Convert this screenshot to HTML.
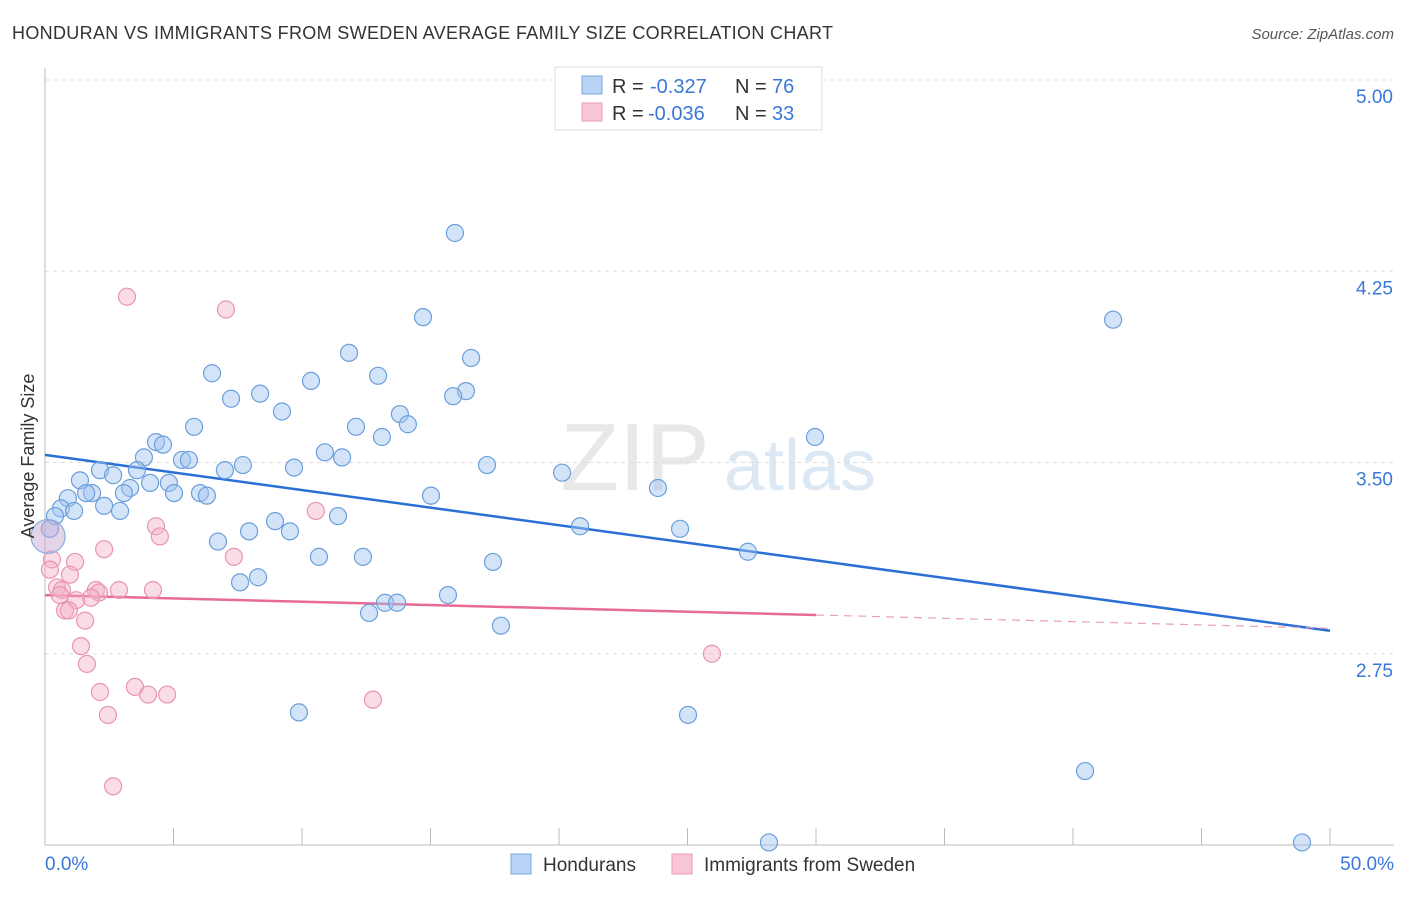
<!DOCTYPE html>
<html><head><meta charset="utf-8">
<style>
body{margin:0;background:#fff;font-family:"Liberation Sans",sans-serif;}
svg text{font-family:"Liberation Sans",sans-serif;}
</style></head>
<body>
<svg id="chart" width="1406" height="892" viewBox="0 0 1406 892">
<text x="12" y="39" font-size="18" fill="#333" textLength="821" lengthAdjust="spacing">HONDURAN VS IMMIGRANTS FROM SWEDEN AVERAGE FAMILY SIZE CORRELATION CHART</text>
<text x="1394" y="39" font-size="15" fill="#555" font-style="italic" text-anchor="end">Source: ZipAtlas.com</text>
<g>
<text x="635" y="490" font-size="96" fill="#e8e8e8" font-family="Liberation Serif,serif" text-anchor="middle">ZIP</text>
<text x="800" y="490" font-size="72" fill="#dde8f5" text-anchor="middle">atlas</text>
</g>
<g id="grid"></g>
<g id="axes"></g>
<g id="trends"></g>
<g id="points"></g>
<text x="34" y="456" font-size="18" fill="#333" text-anchor="middle" transform="rotate(-90 34 456)">Average Family Size</text>
<g>
<rect x="555" y="67" width="267" height="63" fill="#fff" stroke="#ddd"/>
<rect x="582" y="76" width="20" height="18" fill="#b8d3f5" stroke="#7aa8e0"/>
<rect x="582" y="103" width="20" height="18" fill="#f9c6d6" stroke="#eb9ab5"/>
<text x="612" y="93" font-size="20" fill="#333">R = </text><text x="650" y="93" font-size="20" fill="#3a78d8">-0.327</text>
<text x="735" y="93" font-size="20" fill="#333">N = </text><text x="772" y="93" font-size="20" fill="#3a78d8">76</text>
<text x="612" y="120" font-size="20" fill="#333">R = </text><text x="648" y="120" font-size="20" fill="#3a78d8">-0.036</text>
<text x="735" y="120" font-size="20" fill="#333">N = </text><text x="772" y="120" font-size="20" fill="#3a78d8">33</text>
</g>
<g>
<rect x="511" y="854" width="20" height="20" fill="#b8d3f5" stroke="#7aa8e0"/>
<text x="543" y="871" font-size="19" fill="#333">Hondurans</text>
<rect x="672" y="854" width="20" height="20" fill="#f9c6d6" stroke="#eb9ab5"/>
<text x="704" y="871" font-size="19" fill="#333">Immigrants from Sweden</text>
</g>
</svg>
<script>
const yTicks=[5.00,4.25,3.50,2.75];
const xTickLabels=["0.0%","50.0%"];
const blueX=[15.95,14.71,11.83,16.58,6.50,12.96,10.35,16.38,8.37,15.88,7.24,9.22,13.81,14.12,5.80,12.10,13.11,29.96,4.32,4.59,3.85,10.89,11.56,5.33,5.60,17.20,9.69,7.70,7.00,2.14,3.58,2.65,20.12,1.36,4.09,4.82,3.31,3.07,1.83,5.02,6.03,1.60,6.30,15.02,23.85,0.89,2.30,2.92,0.62,1.13,0.39,11.40,8.95,20.82,24.71,7.94,9.53,6.73,27.35,10.66,12.37,17.43,8.29,7.59,15.68,13.23,13.70,12.61,17.74,9.88,25.02,41.56,40.47,28.17,48.91,0.19];
const blueY=[4.40,4.07,3.93,3.91,3.85,3.84,3.82,3.78,3.77,3.76,3.75,3.70,3.69,3.65,3.64,3.64,3.60,3.60,3.58,3.57,3.52,3.54,3.52,3.51,3.51,3.49,3.48,3.49,3.47,3.47,3.47,3.45,3.46,3.43,3.42,3.42,3.40,3.38,3.38,3.38,3.38,3.38,3.37,3.37,3.40,3.36,3.33,3.31,3.32,3.31,3.29,3.29,3.27,3.25,3.24,3.23,3.23,3.19,3.15,3.13,3.13,3.11,3.05,3.03,2.98,2.95,2.95,2.91,2.86,2.52,2.51,4.06,2.29,2.01,2.01,3.24];
const pinkX=[3.19,7.04,10.54,4.32,4.47,2.30,7.35,0.27,1.17,0.19,0.97,0.47,0.66,1.98,2.88,4.20,2.10,1.79,1.21,0.78,0.93,1.56,1.40,25.95,1.63,3.50,2.14,4.01,4.75,12.76,2.45,2.65,0.58];
const pinkY=[4.15,4.10,3.31,3.25,3.21,3.16,3.13,3.12,3.11,3.08,3.06,3.01,3.00,3.00,3.00,3.00,2.99,2.97,2.96,2.92,2.92,2.88,2.78,2.75,2.71,2.62,2.60,2.59,2.59,2.57,2.51,2.23,2.98];
const bigX=[0.12], bigY=[3.21];
const blueTrend=[3.53,2.84];
const pinkTrend=[2.98,2.85]; const pinkSolidEnd=30;
const NS="http://www.w3.org/2000/svg";
const X=v=>45+v/50*1285;
const Y=v=>845-(v-2)/3*765;
function mk(tag,attrs,parent){const e=document.createElementNS(NS,tag);for(const k in attrs)e.setAttribute(k,attrs[k]);parent.appendChild(e);return e;}
const grid=document.getElementById('grid'),axes=document.getElementById('axes'),tr=document.getElementById('trends'),pts=document.getElementById('points');
yTicks.forEach(t=>{
 const l=mk('line',{x1:45,x2:1394,y1:Y(t),y2:Y(t),stroke:'#ddd','stroke-dasharray':'4,4'},grid);
 
 
 const tx=mk('text',{x:1393,y:Y(t)+23,'font-size':19,fill:'#3a78d8','text-anchor':'end'},axes);
 tx.textContent=t.toFixed(2);
 
 
});
mk('line',{x1:45,x2:45,y1:68,y2:845,stroke:'#bbb'},axes);
mk('line',{x1:45,x2:1394,y1:845,y2:845,stroke:'#bbb'},axes);
for(let i=0;i<=10;i++){const tk=mk('line',{x1:X(i*5),x2:X(i*5),y1:828,y2:845,stroke:'#bbb'},axes);
 
 }
[[45,'start',0],[1394,'end',1]].forEach(([x,a,i])=>{const t=mk('text',{x:x,y:870,'font-size':19,fill:'#3a78d8','text-anchor':a},axes);t.textContent=xTickLabels[i];
 
 });
const ty=(p,x)=>p[0]+(p[1]-p[0])*x/50;
const bl=mk('line',{x1:X(0),y1:Y(ty(blueTrend,0)),x2:X(50),y2:Y(ty(blueTrend,50)),stroke:'#2a6fd6','stroke-width':2.5},tr);


const pl=mk('line',{x1:X(0),y1:Y(ty(pinkTrend,0)),x2:X(pinkSolidEnd),y2:Y(ty(pinkTrend,pinkSolidEnd)),stroke:'#e86b95','stroke-width':2.5},tr);


const pd=mk('line',{x1:X(pinkSolidEnd),y1:Y(ty(pinkTrend,pinkSolidEnd)),x2:X(50),y2:Y(ty(pinkTrend,50)),stroke:'#e8a0b8','stroke-width':1.2,'stroke-dasharray':'8,6'},tr);


blueX.forEach((x,i)=>{const c=mk('circle',{cx:X(x),cy:Y(blueY[i]),r:8.5,fill:'rgba(160,196,240,0.45)',stroke:'#6a9fdc','stroke-width':1.2},pts);
 
 });
pinkX.forEach((x,i)=>{const c=mk('circle',{cx:X(x),cy:Y(pinkY[i]),r:8.5,fill:'rgba(245,178,200,0.45)',stroke:'#e895b2','stroke-width':1.2},pts);
 
 });
bigX.forEach((x,i)=>{const c=mk('circle',{cx:X(x),cy:Y(bigY[i]),r:17,fill:'rgba(200,170,210,0.5)',stroke:'#8aaee0','stroke-width':1.2},pts);
 
 });
</script>
</body></html>
